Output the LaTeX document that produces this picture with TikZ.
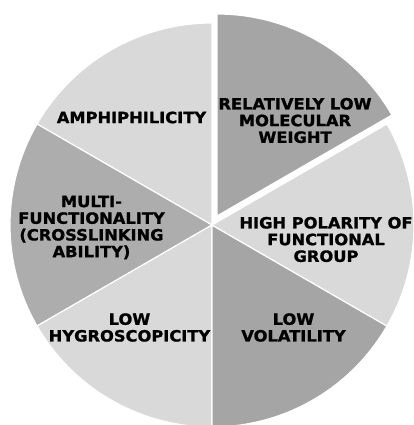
\documentclass[tikz,border=0pt]{standalone}
\usepackage{fontspec}
\newfontfamily\piefont[FakeStretch=1.05,FakeBold=1.2]{DejaVu Sans}
\definecolor{lightslice}{HTML}{D9D9D9}
\definecolor{darkslice}{HTML}{A5A5A5}
\definecolor{midslice}{HTML}{ADADAD}
\begin{document}
\begin{tikzpicture}[x=1pt,y=1pt,
    slice/.style={draw=white,line width=1.2pt,line join=round},
    lbl/.style={align=center,inner sep=0pt,text=black,
      font=\piefont\bfseries\fontsize{15.5}{16.7}\selectfont}]
  \useasboundingbox[fill=white] (0,0) rectangle (414,425);

  \coordinate (c) at (212,200);
  \coordinate (cx) at (217,209);

  % the six slices, the one at the top right pulled out
  \path[slice,fill=lightslice] (c) -- ++(90:202) arc (90:150:202) -- cycle;
  \path[slice,fill=midslice] (c) -- ++(150:202) arc (150:210:202) -- cycle;
  \path[slice,fill=lightslice] (c) -- ++(210:202) arc (210:270:202) -- cycle;
  \path[slice,fill=darkslice] (c) -- ++(270:202) arc (270:330:202) -- cycle;
  \path[slice,fill=lightslice] (c) -- ++(330:202) arc (330:390:202) -- cycle;
  \path[slice,fill=darkslice] (cx) -- ++(30:202) arc (30:90:202) -- cycle;

  % labels
  \node[lbl] (amph) at (131.5,307.5) {AMPHIPHILICITY};
  \node[lbl] (weight) at (295,304.5) {RELATIVELY LOW\\MOLECULAR\\WEIGHT};
  \node[lbl] (multi) at (91.5,197.5) {MULTI-\\FUNCTIONALITY\\(CROSSLINKING\\ABILITY)};
  \node[lbl] (polar) at (326,185.5) {HIGH POLARITY OF\\FUNCTIONAL\\GROUP};
  \node[lbl] (hygro) at (129.5,97.5) {LOW\\HYGROSCOPICITY};
  \node[lbl] (volat) at (293.5,97.5) {LOW\\VOLATILITY};
\end{tikzpicture}
\end{document}
